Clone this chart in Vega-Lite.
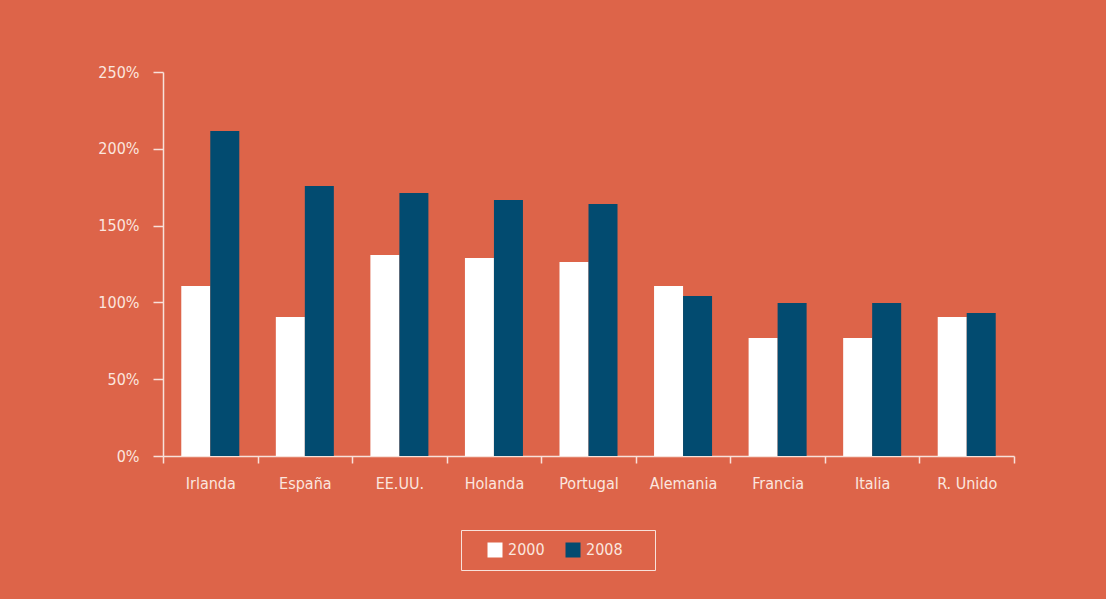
{
  "$schema": "https://vega.github.io/schema/vega-lite/v6.json",
  "width": 851,
  "height": 384,
  "autosize": {"type": "none"},
  "padding": {"left": 163, "top": 72, "right": 92, "bottom": 143},
  "background": "#DD6449",
  "config": {
    "view": {"stroke": null},
    "font": "Liberation Sans Narrow, DejaVu Sans Condensed, sans-serif",
    "axis": {
      "domainColor": "#F8E1DA",
      "tickColor": "#F8E1DA",
      "labelColor": "#FBE6DF",
      "domainWidth": 1.5,
      "tickWidth": 1.5,
      "labelFontSize": 16,
      "grid": false,
      "title": null
    },
    "legend": {
      "strokeColor": "#F8E1DA",
      "padding": 12
    }
  },
  "data": {
    "values": [
      {"pais": "Irlanda", "anio": "2000", "valor": 110.7},
      {"pais": "Irlanda", "anio": "2008", "valor": 211.6},
      {"pais": "España", "anio": "2000", "valor": 90.5},
      {"pais": "España", "anio": "2008", "valor": 175.8},
      {"pais": "EE.UU.", "anio": "2000", "valor": 130.9},
      {"pais": "EE.UU.", "anio": "2008", "valor": 171.2},
      {"pais": "Holanda", "anio": "2000", "valor": 128.9},
      {"pais": "Holanda", "anio": "2008", "valor": 166.7},
      {"pais": "Portugal", "anio": "2000", "valor": 126.3},
      {"pais": "Portugal", "anio": "2008", "valor": 164.1},
      {"pais": "Alemania", "anio": "2000", "valor": 110.7},
      {"pais": "Alemania", "anio": "2008", "valor": 104.2},
      {"pais": "Francia", "anio": "2000", "valor": 76.8},
      {"pais": "Francia", "anio": "2008", "valor": 99.6},
      {"pais": "Italia", "anio": "2000", "valor": 76.8},
      {"pais": "Italia", "anio": "2008", "valor": 99.6},
      {"pais": "R. Unido", "anio": "2000", "valor": 90.5},
      {"pais": "R. Unido", "anio": "2008", "valor": 93.1}
    ]
  },
  "mark": {"type": "bar"},
  "encoding": {
    "x": {
      "field": "pais",
      "type": "nominal",
      "sort": null,
      "scale": {"paddingInner": 0, "paddingOuter": 0},
      "axis": {
        "labelAngle": 0,
        "tickBand": "extent",
        "tickSize": 7,
        "labelPadding": 12
      }
    },
    "xOffset": {
      "field": "anio",
      "type": "nominal",
      "scale": {"paddingInner": 0, "paddingOuter": 0.63}
    },
    "y": {
      "field": "valor",
      "type": "quantitative",
      "scale": {"domain": [0, 250], "nice": false},
      "axis": {
        "values": [0, 50, 100, 150, 200, 250],
        "tickSize": 10,
        "labelPadding": 14,
        "labelExpr": "datum.value + '%'"
      }
    },
    "color": {
      "field": "anio",
      "type": "nominal",
      "scale": {"domain": ["2000", "2008"], "range": ["#FFFFFF", "#024B70"]},
      "legend": {
        "orient": "none",
        "legendX": 298,
        "legendY": 458,
        "direction": "horizontal",
        "title": "\u00a0",
        "titleOrient": "right",
        "titlePadding": 20,
        "titleFontSize": 16,
        "symbolOffset": 14,
        "symbolType": "square",
        "symbolSize": 225,
        "symbolStrokeWidth": 0,
        "symbolOpacity": 1,
        "labelFontSize": 16,
        "labelColor": "#FBE6DF",
        "labelOffset": 5,
        "columnPadding": 6
      }
    }
  }
}
